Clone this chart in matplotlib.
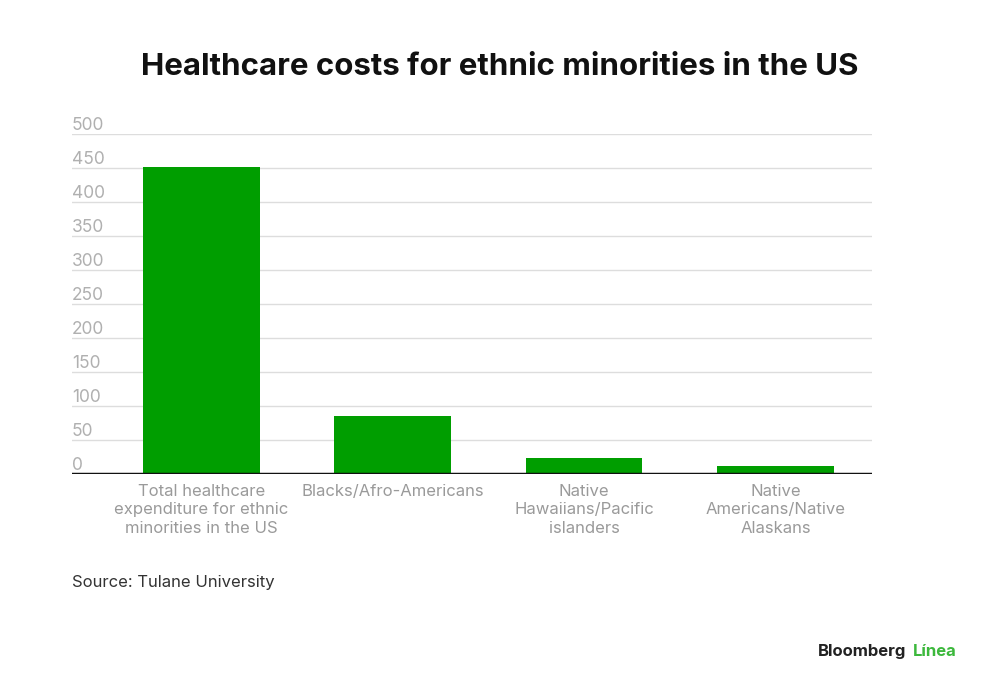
import matplotlib
matplotlib.use("Agg")
import matplotlib.pyplot as plt
from matplotlib.transforms import blended_transform_factory

categories = ["Total healthcare\nexpenditure for ethnic\nminorities in the US",
              "Blacks/Afro-Americans",
              "Native\nHawaiians/Pacific\nislanders",
              "Native\nAmericans/Native\nAlaskans"]
values = [451, 86, 23, 12]
yticks = [0, 50, 100, 150, 200, 250, 300, 350, 400, 450, 500]

plt.rcParams['font.family'] = ['Inter', 'DejaVu Sans']

fig = plt.figure(figsize=(10, 6.95), dpi=100)
ax = fig.add_axes([0.072, 0.318, 0.8, 0.489])

x = list(range(len(categories)))
ax.bar(x, values, width=0.61, color="#009e00", zorder=2)
ax.set_xlim(-0.677, 3.505)
ax.set_ylim(0, 500)

for t in yticks[1:]:
    ax.axhline(t, color="#dddddd", lw=1, zorder=1)
ax.axhline(0, color="#111111", lw=2.5, zorder=3)

trans = blended_transform_factory(ax.transAxes, ax.transData)
for t in yticks:
    ax.text(0.0, t, str(t), transform=trans, ha="left", va="bottom",
            fontsize=12.5, color="#b0b0b0")

ax.set_yticks([])
ax.set_xticks(x)
ax.set_xticklabels(categories, fontsize=12, color="#9a9a9a", linespacing=1.3)
ax.tick_params(axis="x", length=0, pad=7)
for s in ax.spines.values():
    s.set_visible(False)

fig.text(0.5, 0.904, "Healthcare costs for ethnic minorities in the US",
         ha="center", va="center", fontsize=22.5, fontweight="bold", color="#111111")
fig.text(0.072, 0.162, "Source: Tulane University", ha="left", va="center",
         fontsize=12, color="#333333")
fig.text(0.818, 0.062, "Bloomberg", ha="left", va="center", fontsize=12,
         fontweight="bold", color="#222222")
fig.text(0.913, 0.062, "Línea", ha="left", va="center", fontsize=12,
         fontweight="bold", color="#3cb83c")

fig.savefig("out.png", dpi=100, facecolor="white")
